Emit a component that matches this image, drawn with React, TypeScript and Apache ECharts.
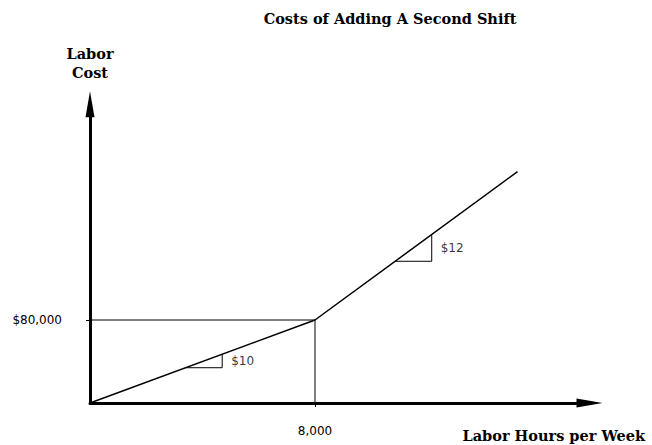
import React, { useEffect, useRef } from "react";
import * as echarts from "echarts";

// Data (schematic cost curve)
const costPoints: [number, number][] = [
  [0, 0],
  [8000, 80000],
  [15200, 223000],
];
const kinkHours = 8000;
const kinkCost = 80000;
const guideHorizontal: [number, number][] = [
  [0, 80000],
  [8000, 80000],
];
const guideVertical: [number, number][] = [
  [8000, 0],
  [8000, 80000],
];
const slopeTriangle1: [number, number][] = [
  [3400, 34000],
  [4700, 34000],
  [4700, 47000],
];
const slopeTriangle2: [number, number][] = [
  [10850, 136600],
  [12150, 136600],
  [12150, 162400],
];
const slopeLabelPoints: [number, number][] = [
  [4700, 40500],
  [12150, 149500],
];
const slopeLabels = ["$10", "$12"];
const yTickLabel = "$80,000";
const xTickLabel = "8,000";

const titleText = "Costs of Adding A Second Shift";
const yName = "Labor\nCost";
const xName = "Labor Hours per Week";

const serif = "'DejaVu Serif', 'Liberation Serif', serif";
const sans = "'DejaVu Sans', 'Liberation Sans', sans-serif";

export default function App() {
  const ref = useRef<HTMLDivElement>(null);
  useEffect(() => {
    if (!ref.current) return;
    const chart = echarts.init(ref.current, undefined, { renderer: "svg" });
    const thin = { color: "#000", width: 1 };
    chart.setOption({
      animation: false,
      backgroundColor: "#fff",
      title: [
        {
          text: titleText,
          left: 385,
          top: 6,
          textAlign: "center",
          textStyle: { fontFamily: serif, fontWeight: "bold", fontSize: 14.5, color: "#000" },
        },
        {
          text: xName,
          right: 2,
          top: 423,
          textStyle: { fontFamily: serif, fontWeight: "bold", fontSize: 14.5, color: "#000" },
        },
      ],
      grid: { left: 90, right: 62.5, top: 104.2, bottom: 42, containLabel: false },
      xAxis: {
        type: "value",
        min: 0,
        max: 17760,
        splitLine: { show: false },
        axisLine: {
          show: true,
          lineStyle: { color: "#000", width: 3 },
          symbol: ["none", "triangle"],
          symbolSize: [9, 26],
        },
        axisTick: { show: true, customValues: [kinkHours], length: 4, lineStyle: thin },
        axisLabel: {
          customValues: [kinkHours],
          formatter: () => xTickLabel,
          margin: 22,
          fontFamily: sans,
          fontSize: 12,
          color: "#000",
        },
      },
      yAxis: {
        type: "value",
        min: 0,
        max: 288000,
        splitLine: { show: false },
        name: yName,
        nameLocation: "end",
        nameGap: 22,
        nameTextStyle: {
          fontFamily: serif,
          fontWeight: "bold",
          fontSize: 14.5,
          lineHeight: 19,
          color: "#000",
          align: "center",
        },
        axisLine: {
          show: true,
          lineStyle: { color: "#000", width: 3 },
          symbol: ["none", "triangle"],
          symbolSize: [9, 26],
        },
        axisTick: { show: true, customValues: [kinkCost], length: 4, lineStyle: thin },
        axisLabel: {
          customValues: [kinkCost],
          formatter: () => yTickLabel,
          margin: 28,
          fontFamily: sans,
          fontSize: 12,
          color: "#000",
        },
      },
      series: [
        {
          type: "line",
          data: guideHorizontal,
          symbol: "none",
          lineStyle: thin,
          silent: true,
        },
        {
          type: "line",
          data: guideVertical,
          symbol: "none",
          lineStyle: thin,
          silent: true,
        },
        {
          type: "line",
          data: slopeTriangle1,
          symbol: "none",
          lineStyle: thin,
          silent: true,
        },
        {
          type: "line",
          data: slopeTriangle2,
          symbol: "none",
          lineStyle: thin,
          silent: true,
        },
        {
          type: "line",
          data: costPoints,
          symbol: "none",
          lineStyle: { color: "#000", width: 1.5 },
          silent: true,
          z: 3,
        },
        {
          type: "scatter",
          data: slopeLabelPoints,
          symbolSize: 0,
          silent: true,
          label: {
            show: true,
            position: "right",
            distance: 9,
            formatter: (p: any) => slopeLabels[p.dataIndex],
            fontFamily: sans,
            fontSize: 12,
            color: "#000",
          },
        },
      ],
    });
    return () => chart.dispose();
  }, []);
  return (
    <div
      ref={ref}
      style={{ position: "absolute", left: 0, top: 0, width: 652, height: 445, background: "#fff" }}
    />
  );
}
